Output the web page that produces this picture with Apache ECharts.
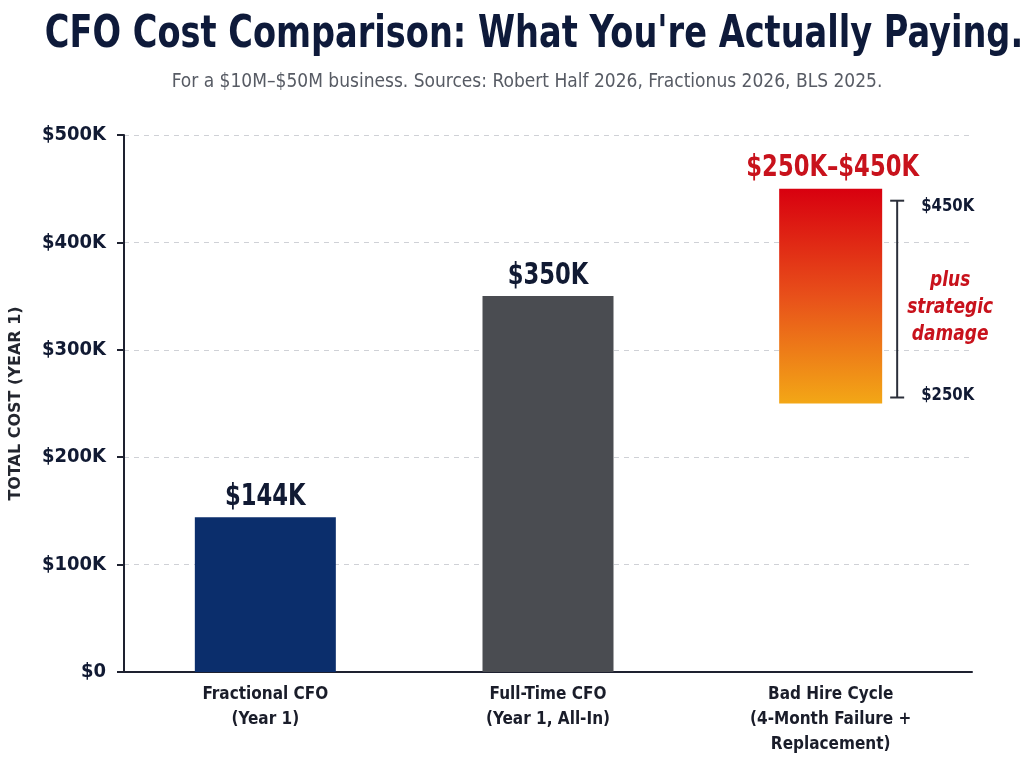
<!DOCTYPE html>
<html>
<head>
<meta charset="utf-8">
<script src="https://cdn.jsdelivr.net/npm/echarts@6/dist/echarts.min.js"></script>
<style>
  html, body { margin: 0; padding: 0; background: #fff; }
  #chart { width: 1024px; height: 768px; }
</style>
</head>
<body>
<div id="chart"></div>
<script>
// data (values in $K)
var categories = ['Fractional CFO\n(Year 1)', 'Full-Time CFO\n(Year 1, All-In)', 'Bad Hire Cycle\n(4-Month Failure +\nReplacement)'];
var lowValues = [0, 0, 250];
var highValues = [144, 350, 450];
var barLabels = ['$144K', '$350K', '$250K\u2013$450K'];
var noteLines = ['plus', 'strategic', 'damage'];

// styles
var NARROW = "'DejaVu Sans Condensed', 'Roboto', sans-serif";
var barWidths = [141, 131, 103];
var barColors = ['#0b2e6c', '#4a4c51', null];
var labelColors = ['#111a33', '#111a33', '#c8121c'];

var chart = echarts.init(document.getElementById('chart'));

function fmtK(v) {
  return v === 0 ? '$0' : '$' + v + 'K';
}

function renderBar(params, api) {
  var idx = api.value(0);
  var low = api.value(1);
  var high = api.value(2);
  var p0 = api.coord([idx, low]);
  var p1 = api.coord([idx, high]);
  var w = barWidths[idx];
  var fill = barColors[idx];
  if (!fill) {
    fill = new echarts.graphic.LinearGradient(0, 0, 0, 1, [
      { offset: 0, color: '#d8000f' },
      { offset: 0.5, color: '#e8501a' },
      { offset: 1, color: '#f3a716' }
    ]);
  }
  var children = [
    {
      type: 'rect',
      shape: { x: p0[0] - w / 2, y: p1[1], width: w, height: p0[1] - p1[1] },
      style: { fill: fill }
    },
    {
      type: 'text',
      x: p0[0] + (idx === 2 ? 2 : 0),
      y: p1[1] - 5,
      scaleX: 0.84,
      style: {
        text: barLabels[idx],
        fontFamily: NARROW,
        fontWeight: 'bold',
        fontSize: 30,
        fill: labelColors[idx],
        align: 'center',
        verticalAlign: 'bottom'
      }
    }
  ];
  if (idx === 2) {
    // range bracket to the right of the bar
    var bx = p0[0] + w / 2 + 15;
    var yTop = p1[1] + 12;
    var yBot = p0[1] - 6;
    var lineStyle = { stroke: '#2b2f3a', lineWidth: 2 };
    children.push(
      { type: 'line', shape: { x1: bx, y1: yTop, x2: bx, y2: yBot }, style: lineStyle },
      { type: 'line', shape: { x1: bx - 7, y1: yTop, x2: bx + 7, y2: yTop }, style: lineStyle },
      { type: 'line', shape: { x1: bx - 7, y1: yBot, x2: bx + 7, y2: yBot }, style: lineStyle },
      {
        type: 'text', x: bx + 24, y: yTop + 6, scaleX: 0.92,
        style: { text: fmtK(high), fontFamily: NARROW, fontWeight: 'bold', fontSize: 18, fill: '#111a33', verticalAlign: 'middle' }
      },
      {
        type: 'text', x: bx + 24, y: yBot - 2, scaleX: 0.92,
        style: { text: fmtK(low), fontFamily: NARROW, fontWeight: 'bold', fontSize: 18, fill: '#111a33', verticalAlign: 'middle' }
      },
      {
        type: 'text', x: bx + 53, y: (yTop + yBot) / 2 + 8, scaleX: 0.86,
        style: {
          text: noteLines.join('\n'), fontFamily: NARROW, fontWeight: 'bold', fontStyle: 'italic',
          fontSize: 22, lineHeight: 27, fill: '#c8121c', align: 'center', verticalAlign: 'middle'
        }
      }
    );
  }
  return { type: 'group', children: children };
}

var seriesData = categories.map(function (c, i) {
  return [i, lowValues[i], highValues[i]];
});

var option = {
  backgroundColor: '#ffffff',
  animation: false,
  graphic: [
    {
      type: 'text',
      x: 534,
      y: 35,
      scaleX: 0.83,
      style: {
        text: "CFO Cost Comparison: What You're Actually Paying.",
        fontFamily: NARROW,
        fontWeight: 'bold',
        fontSize: 45,
        fill: '#0e1a3a',
        align: 'center',
        verticalAlign: 'middle'
      }
    },
    {
      type: 'text',
      x: 527,
      y: 82,
      scaleX: 0.95,
      style: {
        text: 'For a $10M\u2013$50M business. Sources: Robert Half 2026, Fractionus 2026, BLS 2025.',
        fontFamily: NARROW,
        fontSize: 20,
        fill: '#575b64',
        align: 'center',
        verticalAlign: 'middle'
      }
    }
  ],
  grid: { left: 120, right: 52, top: 135, bottom: 96 },
  xAxis: {
    type: 'category',
    data: categories,
    axisLine: { lineStyle: { color: '#1e2130', width: 2 } },
    axisTick: { show: false },
    axisLabel: {
      margin: 10,
      fontFamily: NARROW,
      fontWeight: 'bold',
      fontSize: 17,
      lineHeight: 25,
      color: '#1a1d2a',
      interval: 0
    }
  },
  yAxis: {
    type: 'value',
    min: 0,
    max: 500,
    interval: 100,
    name: 'TOTAL COST (YEAR 1)',
    nameLocation: 'middle',
    nameGap: 100,
    nameRotate: 90,
    nameTextStyle: { fontFamily: 'DejaVu Sans', fontWeight: 'bold', fontSize: 16, color: '#23262f' },
    axisLine: { show: true, lineStyle: { color: '#1e2130', width: 2 } },
    axisTick: { show: true, length: 7, lineStyle: { color: '#1e2130', width: 2 } },
    axisLabel: {
      margin: 18,
      fontFamily: NARROW,
      fontWeight: 'bold',
      fontSize: 20,
      color: '#111a33',
      formatter: fmtK
    },
    splitLine: { lineStyle: { color: '#cfd1d6', type: [5, 5], width: 1 } }
  },
  series: [
    {
      type: 'custom',
      name: 'Total cost',
      renderItem: renderBar,
      encode: { x: 0, y: [1, 2] },
      data: seriesData,
      clip: false
    }
  ]
};

chart.setOption(option);
</script>
</body>
</html>
